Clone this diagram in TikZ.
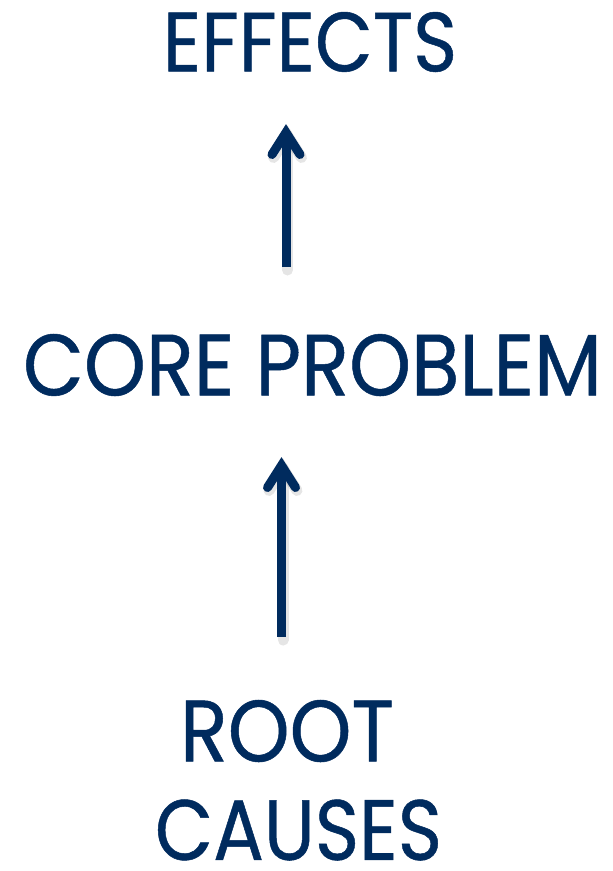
\documentclass[tikz,border=0pt]{standalone}
\usepackage{fontspec}
\setmainfont{Poppins}
\newfontfamily\heavyfont[FakeBold=0.6]{Poppins}
\usepackage{graphicx}
\definecolor{navy}{RGB}{0,43,94}
\tikzset{
  label/.style={inner sep=0pt, outer sep=0pt, text=navy, font=\heavyfont},
  shaft/.style={draw=navy, line width=9pt, line cap=butt},
  head/.style={draw=navy, line width=9pt, line cap=round, line join=miter},
  shade/.style={draw=black, opacity=0.10, line width=11pt, line cap=round}
}
\newcommand{\fitbox}[3]{\resizebox*{#1}{#2}{#3}}
\begin{document}
\begin{tikzpicture}[x=1pt,y=-1pt]
\useasboundingbox[fill=white] (0,0) rectangle (613,871);
\node[label] (effects) at (310,42) {\fitbox{294pt}{60pt}{EFFECTS}};
\node[label] (core) at (312.5,365) {\fitbox{579pt}{62pt}{CORE PROBLEM}};
\node[label] (root) at (287,731) {\fitbox{214pt}{62pt}{ROOT}};
\node[label] (causes) at (298.5,830) {\fitbox{287pt}{61pt}{CAUSES}};
% lower arrow: root -> core
\coordinate (a1s) at (281.5,637);
\coordinate (a1t) at (281.5,465.5);
% upper arrow: core -> effects
\coordinate (a2s) at (286,267);
\coordinate (a2t) at (286,132.5);
\foreach \s/\t in {a1s/a1t, a2s/a2t}{
  \draw[shade] ([shift={(1.5,3)}]\s) -- ([shift={(1.5,3)}]\t);
  \draw[shade] ([shift={(-12.5,25)}]\t) -- ([shift={(1.5,3)}]\t) -- ([shift={(15.5,25)}]\t);
  \draw[shaft] (\s) -- (\t);
  \draw[head] ([shift={(-14,22)}]\t) -- (\t) -- ([shift={(14,22)}]\t);
}
\end{tikzpicture}
\end{document}
